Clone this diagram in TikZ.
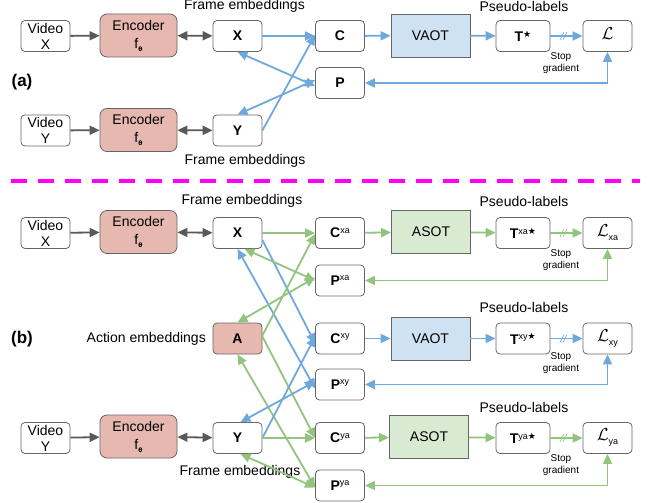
\documentclass[tikz,border=0pt]{standalone}
\usepackage{fontspec}
\setmainfont{Liberation Sans}
\newfontfamily\djv{DejaVu Sans}
\usetikzlibrary{arrows.meta,calc}
\definecolor{encfill}{HTML}{E6B8AF}
\definecolor{vaotfill}{HTML}{CFE2F3}
\definecolor{asotfill}{HTML}{D9EAD3}
\definecolor{bl}{HTML}{6FA8DC}
\definecolor{gr}{HTML}{93C47D}
\definecolor{dk}{HTML}{595959}
\definecolor{bd}{HTML}{666666}
\definecolor{mag}{HTML}{FF00FF}
\newcommand\fs[1]{\fontsize{#1}{#1}\selectfont}
\newcommand\sps[1]{\raisebox{4.5pt}{\fs{9}\mdseries #1}}
\newcommand\tstar{\raisebox{4.5pt}{\djv\fs{9}\bfseries ★}}
\newcommand\lsym[1]{{\fs{17}$\mathcal{L}$}\raisebox{-4pt}{\fs{9}\mdseries #1}}
\newcommand\fth{f\raisebox{-3pt}{\djv\fs{6}\bfseries θ}}
\tikzset{
  box/.style={draw=bd, line width=0.8pt, rounded corners=4pt, fill=white,
    minimum width=49pt, minimum height=31pt, inner sep=0pt, align=center,
    font=\fs{14}\bfseries},
  vbox/.style={box, font=\fontsize{14}{16}\selectfont},
  tbox/.style={box, minimum width=54pt},
  enc/.style={box, fill=encfill, rounded corners=7pt, minimum width=77pt,
    minimum height=43pt, font=\fontsize{14}{18}\selectfont},
  ot/.style={draw=bd, line width=0.8pt, minimum width=79pt, minimum height=43pt,
    inner sep=0pt, font=\fs{14}},
  lab/.style={font=\fs{14}, inner sep=0pt},
  sg/.style={font=\fontsize{10}{12}\selectfont, align=center, inner sep=0pt},
  tip/.style={-{Triangle[length=10pt,width=9pt]}},
  dtip/.style={{Triangle[length=10pt,width=9pt]}-{Triangle[length=10pt,width=9pt]}},
  ga/.style={draw=dk, line width=1.8pt},
  ba/.style={draw=bl, line width=1.8pt},
  gra/.style={draw=gr, line width=1.8pt},
}
\begin{document}
\begin{tikzpicture}[x=1pt,y=-1pt]
\useasboundingbox (0,0) rectangle (649,503);

% ---------------- (a) ----------------
\node[vbox] (vxa) at (45.5,36) {Video\\X};
\node[enc] (exa) at (138.5,35.5) {Encoder\\\fth};
\node[box] (Xa) at (237.5,36) {X};
\node[vbox] (vya) at (45.5,130.5) {Video\\Y};
\node[enc] (eya) at (138.5,130) {Encoder\\\fth};
\node[box] (Ya) at (237.5,130.5) {Y};
\node[lab] (fea1) at (244.5,6) {Frame embeddings};
\node[lab] (fea2) at (245,161) {Frame embeddings};
\node[font=\fs{17}\bfseries, inner sep=0pt] (la) at (22,82) {(a)};
\node[box] (Ca) at (340,36) {C};
\node[box] (Pa) at (340,83) {P};
\node[ot, fill=vaotfill] (OTa) at (430.5,35.5) {VAOT};
\node[tbox] (Ta) at (523,36) {T\tstar};
\node[box] (La) at (607.5,36) {\lsym{}};
\node[lab] (pla) at (524,6) {Pseudo-labels};
\node[sg] (sga) at (561,63) {Stop\\gradient};

\draw[ga,tip] (vxa) -- (exa);
\draw[ga,dtip] (exa) -- (Xa);
\draw[ga,tip] (vya) -- (eya);
\draw[ga,dtip] (eya) -- (Ya);
\draw[ba,tip] (Xa.east) -- (Ca.west);
\draw[ba,tip] (Ya.east) -- ([yshift=1]Ca.west);
\draw[ba,dtip] (Xa.south) -- ([yshift=-3]Pa.west);
\draw[ba,dtip] (Ya.north) -- ([yshift=3]Pa.west);
\draw[ba,tip] (Ca) -- (OTa);
\draw[ba,tip] (OTa) -- (Ta);
\draw[ba,tip] (Ta) -- (La);
\draw[ba,dtip] (Pa.east) -| (La.south);
\coordinate (sma) at ($(Ta.east)!0.42!(La.west)$);
\draw[bl, line width=0.7pt] ($(sma)+(-4,4)$) -- ($(sma)+(0,-4)$);
\draw[bl, line width=0.7pt] ($(sma)+(-1,4)$) -- ($(sma)+(3,-4)$);

% ---------------- separator ----------------
\draw[mag, line width=3.5pt, dash pattern=on 16pt off 11pt] (11,181) -- (640,181);

% ---------------- (b) ----------------
\node[vbox] (vxb) at (45.5,233) {Video\\X};
\node[enc] (exb) at (138.5,232) {Encoder\\\fth};
\node[box] (Xb) at (237.5,233) {X};
\node[box, fill=encfill] (Ab) at (237.5,338.5) {A};
\node[vbox] (vyb) at (45.5,438) {Video\\Y};
\node[enc] (eyb) at (138.5,436.5) {Encoder\\\fth};
\node[box] (Yb) at (237.5,438) {Y};
\node[lab] (feb1) at (242,201) {Frame embeddings};
\node[lab] (feb2) at (240,472) {Frame embeddings};
\node[lab, anchor=east] (aeb) at (206,339) {Action embeddings};
\node[font=\fs{17}\bfseries, inner sep=0pt] (lb) at (22,339) {(b)};

\node[box] (C1) at (340,233) {C\sps{xa}};
\node[box] (P1) at (340,280.5) {P\sps{xa}};
\node[ot, fill=asotfill] (O1) at (431,232) {ASOT};
\node[tbox] (T1) at (523,233) {T\sps{xa}\tstar};
\node[box] (L1) at (607.5,233) {\lsym{xa}};
\node[lab] (pl1) at (524,201) {Pseudo-labels};
\node[sg] (sg1) at (561,260) {Stop\\gradient};

\node[box] (C2) at (340,338.5) {C\sps{xy}};
\node[box] (P2) at (340,384.5) {P\sps{xy}};
\node[ot, fill=vaotfill] (O2) at (430.5,338.5) {VAOT};
\node[tbox] (T2) at (523,338.5) {T\sps{xy}\tstar};
\node[box] (L2) at (607.5,338.5) {\lsym{xy}};
\node[lab] (pl2) at (524,307) {Pseudo-labels};
\node[sg] (sg2) at (561,363) {Stop\\gradient};

\node[box] (C3) at (340,438) {C\sps{ya}};
\node[box] (P3) at (340,485.5) {P\sps{ya}};
\node[ot, fill=asotfill] (O3) at (429,437) {ASOT};
\node[tbox] (T3) at (523,438) {T\sps{ya}\tstar};
\node[box] (L3) at (607.5,438) {\lsym{ya}};
\node[lab] (pl3) at (524,407) {Pseudo-labels};
\node[sg] (sg3) at (561,465) {Stop\\gradient};

\draw[ga,tip] (vxb) -- (exb);
\draw[ga,dtip] (exb) -- (Xb);
\draw[ga,tip] (vyb) -- (eyb);
\draw[ga,dtip] (eyb) -- (Yb);

% crossing connectors
\draw[gra,tip] (Xb.east) -- (C1.west);
\draw[ba,tip] ([yshift=-7]Xb.east) -- ([yshift=-5]C2.west);
\draw[gra,dtip] ([xshift=7]Xb.south) -- (P1.west);
\draw[ba,dtip] (Xb.south) -- ([yshift=-4]P2.west);
\draw[gra,dtip] (Ab.north) -- ([yshift=3]P1.west);
\draw[gra,tip] ([yshift=3]Ab.east) -- ([yshift=-1]C1.west);
\draw[gra,tip] ([yshift=2]Ab.east) -- (C3.west);
\draw[gra,dtip] (Ab.south) -- ([yshift=-2]P3.west);
\draw[ba,tip] (Yb.east) -- ([yshift=2]C2.west);
\draw[ba,dtip] ([xshift=3]Yb.north) -- ([yshift=3]P2.west);
\draw[gra,tip] (Yb.east) -- (C3.west);
\draw[gra,dtip] ([xshift=3]Yb.south) -- ([yshift=-2]P3.west);

% right side chains
\draw[gra,tip] (C1) -- (O1);
\draw[gra,tip] (O1) -- (T1);
\draw[gra,tip] (T1) -- (L1);
\draw[gra,dtip] (P1.east) -| (L1.south);
\coordinate (sm1) at ($(T1.east)!0.42!(L1.west)$);
\draw[gr, line width=0.7pt] ($(sm1)+(-4,4)$) -- ($(sm1)+(0,-4)$);
\draw[gr, line width=0.7pt] ($(sm1)+(-1,4)$) -- ($(sm1)+(3,-4)$);

\draw[ba,tip] (C2) -- (O2);
\draw[ba,tip] (O2) -- (T2);
\draw[ba,tip] (T2) -- (L2);
\draw[ba,dtip] (P2.east) -| (L2.south);
\coordinate (sm2) at ($(T2.east)!0.42!(L2.west)$);
\draw[bl, line width=0.7pt] ($(sm2)+(-4,4)$) -- ($(sm2)+(0,-4)$);
\draw[bl, line width=0.7pt] ($(sm2)+(-1,4)$) -- ($(sm2)+(3,-4)$);

\draw[gra,tip] (C3) -- (O3);
\draw[gra,tip] (O3) -- (T3);
\draw[gra,tip] (T3) -- (L3);
\draw[gra,dtip] (P3.east) -| (L3.south);
\coordinate (sm3) at ($(T3.east)!0.42!(L3.west)$);
\draw[gr, line width=0.7pt] ($(sm3)+(-4,4)$) -- ($(sm3)+(0,-4)$);
\draw[gr, line width=0.7pt] ($(sm3)+(-1,4)$) -- ($(sm3)+(3,-4)$);
\end{tikzpicture}
\end{document}
